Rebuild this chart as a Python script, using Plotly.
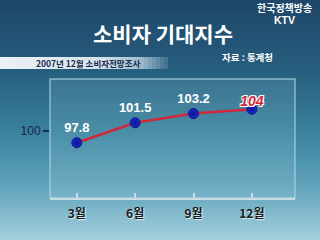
import plotly.graph_objects as go

# ---- data ----
months = ["3월", "6월", "9월", "12월"]
values = [97.8, 101.5, 103.2, 104]
value_labels = ["97.8", "101.5", "103.2", "104"]
ytick_vals = [100]
ytick_text = ["100"]

title_text = "소비자 기대지수"
subtitle_text = "2007년 12월 소비자전망조사"
source_text = "자료 : 통계청"
brand1 = "한국정책방송"
brand2 = "KTV"

W, H = 320, 240
KR = "Noto Sans CJK KR"


def px(x):
    return x / W


def py(y):
    return 1 - y / H


def lerp(c1, c2, t):
    return "rgb(%d,%d,%d)" % tuple(round(a + (b - a) * t) for a, b in zip(c1, c2))


shapes = []
# background vertical gradient (stepped)
stops = [(0, (30, 70, 104)), (70, (38, 94, 126)), (130, (56, 128, 156)),
         (190, (100, 166, 190)), (240, (165, 208, 220))]
step = 4
for y0 in range(0, H, step):
    yc = y0 + step / 2
    for (a, ca), (b, cb) in zip(stops[:-1], stops[1:]):
        if a <= yc <= b:
            col = lerp(ca, cb, (yc - a) / (b - a))
            break
    shapes.append(dict(type="rect", xref="paper", yref="paper", layer="below",
                       x0=0, x1=1, y0=py(y0 + step), y1=py(y0),
                       fillcolor=col, line=dict(width=0)))

# subtitle banner (horizontal gradient)
bstops = [(0, (236, 242, 246)), (100, (214, 226, 234)), (140, (160, 190, 206)), (168, (60, 110, 140))]
bstep = 4
for x0 in range(0, 168, bstep):
    xc = x0 + bstep / 2
    for (a, ca), (b, cb) in zip(bstops[:-1], bstops[1:]):
        if a <= xc <= b:
            col = lerp(ca, cb, (xc - a) / (b - a))
            break
    shapes.append(dict(type="rect", xref="paper", yref="paper", layer="below",
                       x0=px(x0), x1=px(x0 + bstep), y0=py(69), y1=py(57),
                       fillcolor=col, line=dict(width=0)))

# panel
shapes.append(dict(type="rect", xref="paper", yref="paper", layer="below",
                   x0=px(50), x1=px(295), y0=py(198), y1=py(79),
                   fillcolor="rgba(200,235,245,0.12)",
                   line=dict(color="rgba(180,215,228,0.7)", width=1.5)))

fig = go.Figure()
fig.add_trace(go.Scatter(
    x=months, y=values, mode="lines+markers+text",
    line=dict(color="#d0283a", width=2.5),
    marker=dict(size=10, color="#1a2ad0",
                gradient=dict(type="radial", color="#0a1290"),
                line=dict(color="#0c1680", width=1)),
    text=value_labels[:3] + [""], textposition="top center",
    textfont=dict(family="Liberation Sans, Arial", size=13, color="white",
                  weight="bold"),
    cliponaxis=False, showlegend=False, hoverinfo="skip"))
fig.add_trace(go.Scatter(
    x=months[3:], y=values[3:], mode="text",
    text=value_labels[3:], textposition="top center",
    textfont=dict(family="Liberation Sans, Arial", size=14, color="#d0283a",
                  weight="bold", style="italic",
                  shadow="1px 1px 0 white, -1px -1px 0 white, 1px -1px 0 white, -1px 1px 0 white"),
    cliponaxis=False, showlegend=False, hoverinfo="skip"))


def ann(text, x, y, font):
    return dict(text=text, x=px(x), y=py(y), xref="paper", yref="paper",
                xanchor="center", yanchor="middle", showarrow=False, font=font)


annotations = [
    ann(title_text, 163, 33, dict(family=KR, size=21, color="white", weight="bold")),
    ann(subtitle_text, 88, 63, dict(family=KR, size=8.5, color="#1a2a4a", weight="bold")),
    ann(source_text, 247, 57, dict(family=KR, size=9.5, color="white", weight="bold")),
    ann(brand1, 284, 7, dict(family=KR, size=10, color="white", weight="bold")),
    ann(brand2, 284, 20, dict(family="Liberation Sans, Arial", size=10.5, color="white", weight="bold")),
]

fig.update_layout(
    width=W, height=H, margin=dict(l=0, r=0, t=0, b=0),
    paper_bgcolor="#2a6a88", plot_bgcolor="rgba(0,0,0,0)",
    shapes=shapes, annotations=annotations,
    xaxis=dict(domain=[px(50), px(295)], type="category", range=[-0.46, 3.74],
               showgrid=False, zeroline=False,
               showline=True, linecolor="#c8dce4", linewidth=2,
               ticks="inside", ticklen=5, tickcolor="#c8dce4", tickwidth=1.5,
               ticklabelstandoff=4,
               tickfont=dict(family=KR, size=12, color="#1a1a1a", weight="bold",
                             shadow="1px 1px 1px rgba(255,255,255,0.8)"),
               fixedrange=True),
    yaxis=dict(domain=[py(198), py(79)], range=[87.54, 109.62],
               tickvals=ytick_vals, ticktext=ytick_text,
               showgrid=False, zeroline=False, showline=False,
               ticks="outside", ticklen=6, tickcolor="#1a2a50", tickwidth=2,
               tickfont=dict(family="Liberation Sans, Arial", size=12, color="#16264a"),
               fixedrange=True),
)

fig.write_html("out.html")
